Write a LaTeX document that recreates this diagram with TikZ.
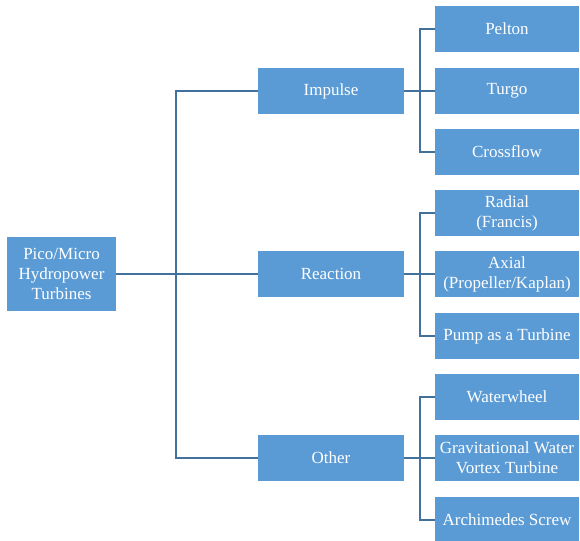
\documentclass[tikz,border=0pt]{standalone}
\usepackage{fontspec}
\setmainfont{Liberation Serif}
\usetikzlibrary{calc}
\definecolor{boxblue}{RGB}{91,155,213}
\definecolor{lineblue}{RGB}{65,113,156}
\tikzset{
  box/.style={fill=boxblue, draw=none, text=white, align=center, inner sep=0pt,
    font=\fontsize{17}{20}\selectfont},
  rootbox/.style={box, minimum width=109pt, minimum height=74pt},
  midbox/.style={box, minimum width=146pt, minimum height=46pt},
  leafbox/.style={box, minimum width=144pt, minimum height=46pt},
  conn/.style={draw=lineblue, line width=1.8pt}
}
\begin{document}
\begin{tikzpicture}[x=1pt,y=-1pt]
\useasboundingbox (0,0) rectangle (580,540);
\node[rootbox] (root) at (61.5,274) {Pico/Micro\\Hydropower\\Turbines};
\node[midbox] (imp) at (331,91) {Impulse};
\node[midbox] (rea) at (331,274) {Reaction};
\node[midbox] (oth) at (331,458) {Other};
\node[leafbox] (pel) at (507,29) {Pelton};
\node[leafbox] (tur) at (507,91) {Turgo};
\node[leafbox] (cro) at (507,152) {Crossflow};
\node[leafbox] (rad) at (507,213) {Radial\\(Francis)};
\node[leafbox] (axi) at (507,274) {Axial\\(Propeller/Kaplan)};
\node[leafbox] (pum) at (507,336) {Pump as a Turbine};
\node[leafbox] (wat) at (507,397) {Waterwheel};
\node[leafbox] (gra) at (507,458) {Gravitational Water\\Vortex Turbine};
\node[leafbox] (arc) at (507,520) {Archimedes Screw};
\coordinate (t) at (176,274);
\coordinate (ib) at ($(imp.east)+(16,0)$);
\coordinate (rb) at ($(rea.east)+(16,0)$);
\coordinate (ob) at ($(oth.east)+(16,0)$);
\draw[conn] (root.east) -- (t);
\draw[conn] (imp.west) -| (t);
\draw[conn] (oth.west) -| (t);
\draw[conn] (rea.west) -- (t);
\draw[conn] (imp.east) -- (ib);
\draw[conn] (pel.west) -| (ib);
\draw[conn] (cro.west) -| (ib);
\draw[conn] (tur.west) -- (ib);
\draw[conn] (rea.east) -- (rb);
\draw[conn] (rad.west) -| (rb);
\draw[conn] (pum.west) -| (rb);
\draw[conn] (axi.west) -- (rb);
\draw[conn] (oth.east) -- (ob);
\draw[conn] (wat.west) -| (ob);
\draw[conn] (arc.west) -| (ob);
\draw[conn] (gra.west) -- (ob);
\end{tikzpicture}
\end{document}
